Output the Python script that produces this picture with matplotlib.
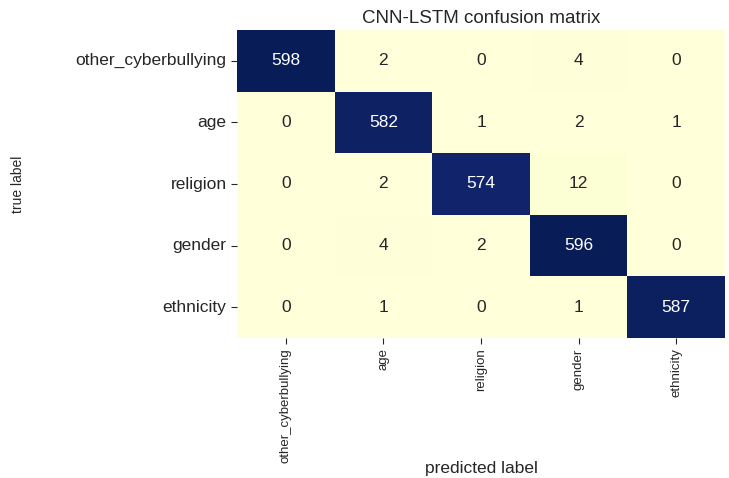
import matplotlib
matplotlib.use("Agg")
import matplotlib.pyplot as plt
import seaborn as sns
import numpy as np

labels = ["other_cyberbullying", "age", "religion", "gender", "ethnicity"]
row_other = [598, 2, 0, 4, 0]
row_age = [0, 582, 1, 2, 1]
row_religion = [0, 2, 574, 12, 0]
row_gender = [0, 4, 2, 596, 0]
row_ethnicity = [0, 1, 0, 1, 587]
cm = np.array([row_other, row_age, row_religion, row_gender, row_ethnicity])

plt.rcParams['font.family'] = ['Liberation Sans', 'DejaVu Sans']
fig = plt.figure(figsize=(7.29, 4.78), dpi=100)
ax = fig.add_axes([237/729, 1-338/478, 488/729, 308/478])
sns.heatmap(cm, annot=True, fmt='d', cmap='YlGnBu', cbar=False, ax=ax,
            xticklabels=labels, yticklabels=labels,
            annot_kws={'fontsize': 12.5})
ax.set_title("CNN-LSTM confusion matrix", fontsize=13.5, color='#262626', pad=5)
ax.set_xlabel("predicted label", fontsize=12.5, color='#262626')
ax.xaxis.set_label_coords(0.5, -(461 - 338) / 308, transform=ax.transAxes)
ax.set_ylabel("true label", fontsize=10, color='#262626')
ax.yaxis.set_label_coords(-(237 - 25) / 488, 0.5, transform=ax.transAxes)
ax.tick_params(axis='x', labelsize=9.5, labelrotation=90, colors='#262626', length=4)
ax.tick_params(axis='y', labelsize=12.5, labelrotation=0, colors='#262626', length=4)
fig.savefig("out.png", dpi=100)
